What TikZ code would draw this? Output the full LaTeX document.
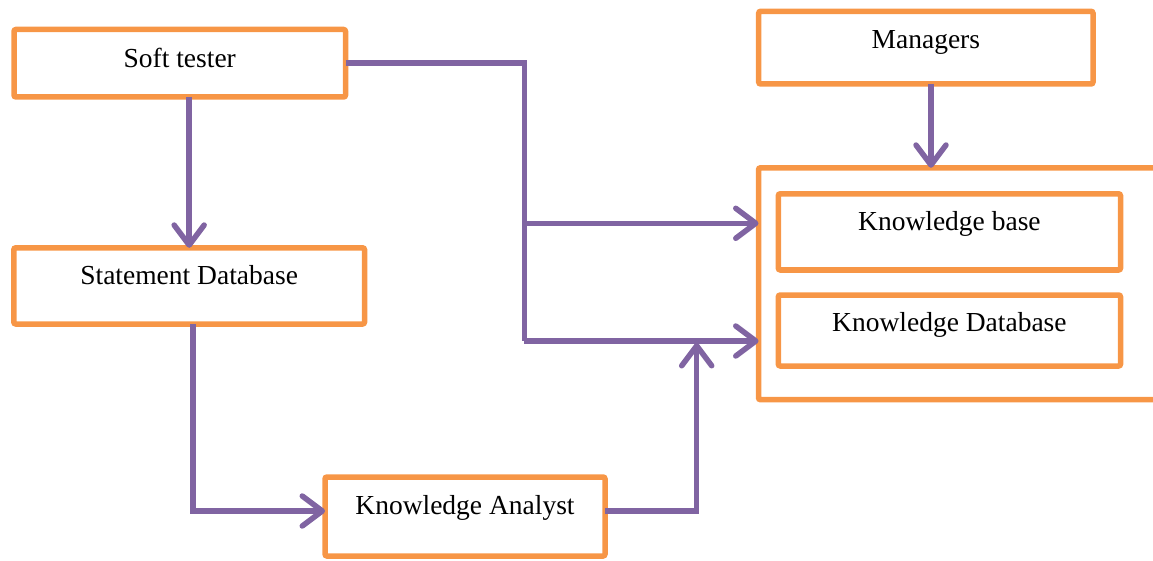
\documentclass[tikz,border=0pt]{standalone}
\usepackage{fontspec}
\setmainfont{Liberation Serif}
\usetikzlibrary{arrows.meta}
\definecolor{boxor}{HTML}{F79646}
\definecolor{linepu}{HTML}{8064A2}
\begin{document}
\begin{tikzpicture}[x=1pt,y=-1pt,
  box/.style={draw=boxor, line width=5.5pt, rounded corners=2pt, inner sep=0pt, outer sep=0pt,
    align=center, anchor=north west, font=\fontsize{27.5}{33}\selectfont},
  conn/.style={draw=linepu, line width=5.5pt},
  arr/.style={conn, -{Straight Barb[length=20pt,width=30pt,round]}}]
\useasboundingbox (0,0) rectangle (1153,561);
% boxes
\node[box, minimum width=331.5pt, minimum height=67.5pt, text height=38.5pt, text depth=29pt] (soft) at (14,29.5) {Soft tester};
\node[box, minimum width=334.3pt, minimum height=72.7pt, text height=37.7pt, text depth=35pt] (mgr) at (758.7,11.3) {Managers};
\node[box, minimum width=350.7pt, minimum height=76.2pt, text height=36.5pt, text depth=39.7pt] (stmt) at (13.8,247.8) {Statement Database};
\node[box, minimum width=450pt, minimum height=231.9pt] (cont) at (758.5,167.8) {};
\node[box, minimum width=342.2pt, minimum height=76.2pt, text height=36.9pt, text depth=39.3pt] (kb) at (778.3,193.8) {Knowledge base};
\node[box, minimum width=342.2pt, minimum height=71pt, text height=36.7pt, text depth=34.3pt] (kdb) at (778.3,295) {Knowledge Database};
\node[box, minimum width=280pt, minimum height=79pt, text height=37pt, text depth=42pt] (ka) at (325,477) {Knowledge Analyst};
% junction coordinates
\coordinate (j2) at (524.3,223.3);
\coordinate (j3) at (524.3,341);
\coordinate (m) at (931,0);
\coordinate (k) at (193,511);
\coordinate (u) at (696.7,343);
% connectors
\draw[arr] (soft.south -| stmt.north) -- (stmt.north);
\draw[conn, line join=miter] (soft.east) -| (j3);
\draw[arr] (j3) -- (j3 -| cont.west);
\draw[arr] (j2) -- (j2 -| cont.west);
\draw[arr] (mgr.south -| m) -- (cont.north -| m);
\draw[arr] (stmt.south -| k) |- (ka.west |- k);
\draw[arr] (ka.east |- k) -| (u);
\end{tikzpicture}
\end{document}
